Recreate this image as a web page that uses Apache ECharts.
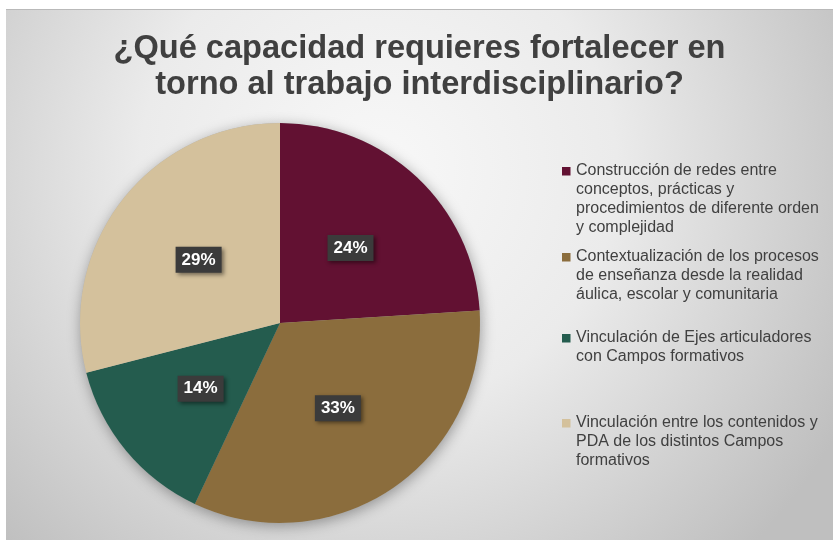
<!DOCTYPE html>
<html>
<head>
<meta charset="utf-8">
<script src="https://cdn.jsdelivr.net/npm/echarts@6/dist/echarts.min.js"></script>
<style>
  html, body { margin: 0; padding: 0; background: #fff; }
  #container {
    position: absolute; left: 6px; top: 9px;
    width: 827px; height: 531px;
    box-sizing: border-box; border-top: 1px solid #b9b9b9;
  }
</style>
</head>
<body>
<div id="container"></div>
<script>
var titleText = '¿Qué capacidad requieres fortalecer en\ntorno al trabajo interdisciplinario?';

// categorías (con sus saltos de línea como en la leyenda)
var categories = [
    'Construcción de redes entre\nconceptos, prácticas y\nprocedimientos de diferente orden\ny complejidad',
    'Contextualización de los procesos\nde enseñanza desde la realidad\náulica, escolar y comunitaria',
    'Vinculación de Ejes articuladores\ncon Campos formativos',
    'Vinculación entre los contenidos y\nPDA de los distintos Campos\nformativos'
];
var percents = [24, 33, 14, 29];
var colors = ['#621132', '#8b6d3d', '#245c4e', '#d4c19c'];

var dom = document.getElementById('container');
var myChart = echarts.init(dom, null, { renderer: 'canvas' });

var FONT = "'Liberation Sans', Arial, sans-serif";
var LINE_H = 19;
// centro vertical de la primera línea de cada elemento de la leyenda
var legendCenters = [161, 247, 328, 413];

var pieData = categories.map(function (name, i) {
    return { name: name, value: percents[i], itemStyle: { color: colors[i] } };
});

// el marcador va a la altura de la primera línea: el icono ocupa todo el alto
// del texto y sólo el cuadrito de arriba se rellena
var legends = categories.map(function (name, i) {
    var n = name.split('\n').length;
    var h = n * LINE_H;
    return {
        show: true,
        orient: 'vertical',
        left: 556,
        top: legendCenters[i] - LINE_H / 2,
        padding: 0,
        itemWidth: 9,
        itemHeight: h,
        icon: 'path://M0,0L0,0.01Z M0,5.5L8.5,5.5L8.5,14L0,14Z M9,' + (h - 0.01) + 'L9,' + h + 'Z',
        itemStyle: { borderWidth: 0 },
        selectedMode: false,
        data: [name],
        textStyle: {
            fontFamily: FONT,
            fontSize: 16,
            color: '#404040',
            lineHeight: LINE_H
        }
    };
});

var option = {
    backgroundColor: {
        type: 'radial',
        x: 0.45, y: 0.3, r: 1.0,
        colorStops: [
            { offset: 0, color: '#f8f8f8' },
            { offset: 0.45, color: '#ebebeb' },
            { offset: 1, color: '#bfbfbf' }
        ]
    },
    title: {
        text: titleText,
        left: 'center',
        top: 21,
        padding: [0, 0, 0, 32],
        textStyle: {
            fontFamily: FONT,
            fontSize: 32.6,
            fontWeight: 'bold',
            color: '#404040',
            lineHeight: 36
        }
    },
    legend: legends,
    series: [
        {
            type: 'pie',
            name: 'capacidad',
            center: [274, 313],
            radius: [0, 200],
            startAngle: 90,
            clockwise: true,
            z: 3,
            silent: true,
            data: pieData,
            label: {
                show: true,
                position: 'inside',
                formatter: '{c}%',
                fontFamily: FONT,
                fontSize: 17,
                fontWeight: 'bold',
                color: '#ffffff',
                backgroundColor: '#3b3b3b',
                padding: [5, 6, 4, 6],
                shadowColor: 'rgba(0,0,0,0.45)',
                shadowBlur: 4,
                shadowOffsetX: 2,
                shadowOffsetY: 2
            },
            labelLine: { show: false },
            emphasis: { disabled: true }
        },
        {
            // sombra suave detrás del pastel
            type: 'pie',
            name: 'sombra',
            center: [274, 313],
            radius: [0, 200],
            z: 1,
            silent: true,
            data: pieData.map(function (d) { return { name: d.name, value: d.value }; }),
            itemStyle: {
                color: '#b0b0b0',
                shadowBlur: 14,
                shadowColor: 'rgba(0,0,0,0.35)',
                shadowOffsetX: 1,
                shadowOffsetY: 3
            },
            label: { show: false },
            labelLine: { show: false },
            emphasis: { disabled: true }
        }
    ]
};

myChart.setOption(option);
window.addEventListener('resize', myChart.resize);
</script>
</body>
</html>
